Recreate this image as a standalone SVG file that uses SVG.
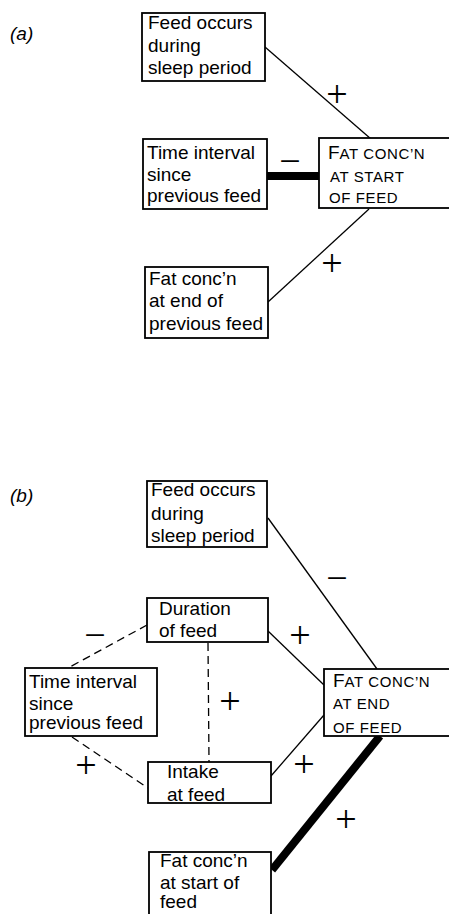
<svg xmlns="http://www.w3.org/2000/svg" width="449" height="914" viewBox="0 0 449 914">
<style>
.box{fill:#fff;stroke:#000;stroke-width:1.8}
.t{font-family:"Liberation Sans",Arial,sans-serif;font-size:19px;fill:#000}
.sc{font-size:15px;letter-spacing:0.6px}
.big{font-size:19px;letter-spacing:0}
.ln{stroke:#000;stroke-width:1.3;fill:none}
.dash{stroke:#000;stroke-width:1.3;fill:none;stroke-dasharray:8 5}
.thick{stroke:#000;stroke-width:8;fill:none}
.sign{font-family:"Liberation Serif","Times New Roman",serif;font-size:38px;fill:#000;text-anchor:middle}
.lab{font-family:"Liberation Sans",Arial,sans-serif;font-size:19px;font-style:italic;fill:#000}
</style>
<rect width="449" height="914" fill="#fff"/>
<g id="connectors">
<line class="ln" x1="265" y1="47" x2="371" y2="139"/>
<line class="thick" x1="267" y1="176" x2="320" y2="176"/>
<line class="ln" x1="369" y1="209" x2="268" y2="302"/>
<line class="ln" x1="268" y1="518" x2="377" y2="669"/>
<line class="ln" x1="268" y1="631" x2="324" y2="685"/>
<line class="ln" x1="271" y1="776" x2="324" y2="715"/>
<line class="dash" x1="147" y1="625" x2="68" y2="668"/>
<line class="dash" x1="208" y1="643" x2="209" y2="762"/>
<line class="dash" x1="72" y1="737" x2="148" y2="788"/>
<line class="thick" stroke-width="7" x1="380" y1="736" x2="272" y2="870"/>
</g>
<g id="signs">
<text class="sign" x="337" y="107">+</text>
<text class="sign" x="290" y="174">−</text>
<text class="sign" x="332" y="276">+</text>
<text class="sign" x="337" y="591">−</text>
<text class="sign" x="300" y="648">+</text>
<text class="sign" x="95" y="648">−</text>
<text class="sign" x="230" y="714">+</text>
<text class="sign" x="86" y="778">+</text>
<text class="sign" x="304" y="777">+</text>
<text class="sign" x="346" y="832">+</text>
</g>
<text class="lab" x="10" y="40">(a)</text>
<text class="lab" x="10" y="502">(b)</text>
<g id="a-sleep">
<rect class="box" x="142" y="13" width="123" height="68"/>
<text class="t" x="148" y="29">Feed occurs</text>
<text class="t" x="148" y="52">during</text>
<text class="t" x="148" y="74">sleep period</text>
</g>
<g id="a-interval">
<rect class="box" x="143" y="139" width="124" height="70"/>
<text class="t" x="147" y="159">Time interval</text>
<text class="t" x="147" y="181">since</text>
<text class="t" x="147" y="202">previous feed</text>
</g>
<g id="a-fatstart">
<rect class="box" x="319" y="138" width="140" height="70"/>
<text class="t sc" x="328" y="159"><tspan class="big">F</tspan>AT CONC’N</text>
<text class="t sc" x="330" y="182">AT START</text>
<text class="t sc" x="329" y="203">OF FEED</text>
</g>
<g id="a-fatend">
<rect class="box" x="145" y="267" width="123" height="71"/>
<text class="t" x="149" y="285">Fat conc’n</text>
<text class="t" x="149" y="307">at end of</text>
<text class="t" x="149" y="330">previous feed</text>
</g>
<g id="b-sleep">
<rect class="box" x="147" y="481" width="120" height="66"/>
<text class="t" x="151" y="496">Feed occurs</text>
<text class="t" x="151" y="520">during</text>
<text class="t" x="151" y="542">sleep period</text>
</g>
<g id="b-duration">
<rect class="box" x="147" y="598" width="121" height="44"/>
<text class="t" x="159" y="615">Duration</text>
<text class="t" x="159" y="637">of feed</text>
</g>
<g id="b-interval">
<rect class="box" x="25" y="668" width="132" height="68"/>
<text class="t" x="29" y="688">Time interval</text>
<text class="t" x="29" y="710">since</text>
<text class="t" x="29" y="729">previous feed</text>
</g>
<g id="b-intake">
<rect class="box" x="148" y="762" width="123" height="41"/>
<text class="t" x="167" y="778">Intake</text>
<text class="t" x="167" y="801">at feed</text>
</g>
<g id="b-fatend">
<rect class="box" x="324" y="669" width="140" height="67"/>
<text class="t sc" x="333" y="687"><tspan class="big">F</tspan>AT CONC’N</text>
<text class="t sc" x="333" y="709">AT END</text>
<text class="t sc" x="333" y="733">OF FEED</text>
</g>
<g id="b-fatstart">
<rect class="box" x="149" y="852" width="122" height="80"/>
<text class="t" x="160" y="867">Fat conc’n</text>
<text class="t" x="160" y="889">at start of</text>
<text class="t" x="160" y="908">feed</text>
</g>
</svg>
